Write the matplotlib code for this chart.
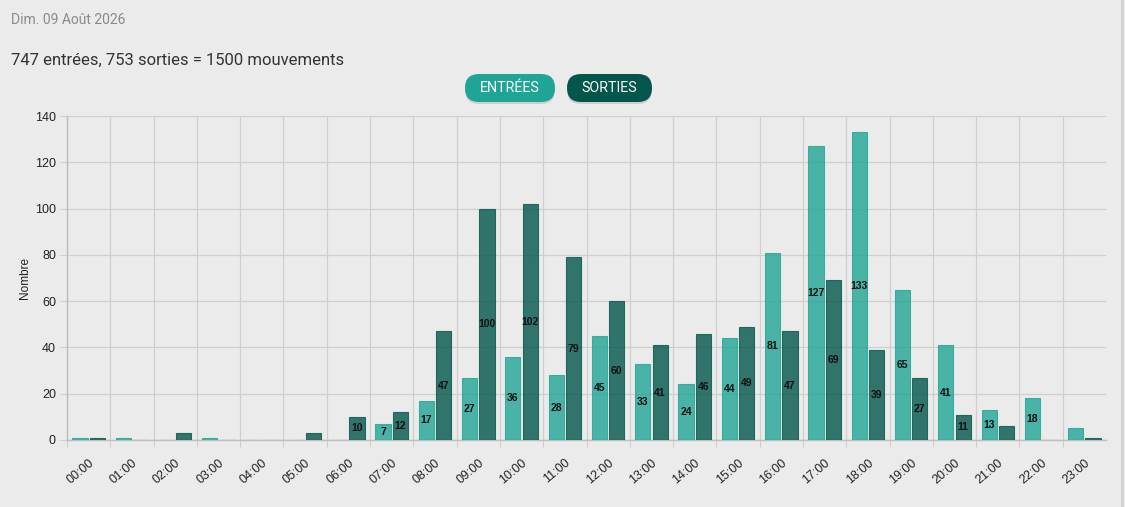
import matplotlib
matplotlib.use("Agg")
import matplotlib.pyplot as plt
from matplotlib.patches import FancyBboxPatch
from matplotlib.lines import Line2D
import numpy as np

hours = ["00:00", "01:00", "02:00", "03:00", "04:00", "05:00", "06:00", "07:00",
         "08:00", "09:00", "10:00", "11:00", "12:00", "13:00", "14:00", "15:00",
         "16:00", "17:00", "18:00", "19:00", "20:00", "21:00", "22:00", "23:00"]
entrees = [1, 1, 0, 1, 0, 0, 0, 7, 17, 27, 36, 28, 45, 33, 24, 44, 81, 127, 133, 65, 41, 13, 18, 5]
sorties = [1, 0, 3, 0, 0, 3, 10, 12, 47, 100, 102, 79, 60, 41, 46, 49, 47, 69, 39, 27, 11, 6, 0, 1]
date_text = "Dim. 09 Août 2026"
summary_text = "747 entrées, 753 sorties = 1500 mouvements"
legend_labels = ["ENTRÉES", "SORTIES"]

c_ent = "#1fa595"
c_sor = "#02564b"
bg = "#ebebeb"
grid_c = "#cfcfcf"
chart_font = ["Liberation Sans", "DejaVu Sans"]
head_font = ["Roboto", "DejaVu Sans"]

fig = plt.figure(figsize=(11.25, 5.07), dpi=100, facecolor=bg)
ax = fig.add_axes([67 / 1125, 67 / 507, (1106 - 67) / 1125, (440 - 116) / 507])
ax.set_facecolor(bg)

x = np.arange(len(hours))
w = 0.35
off = 0.2
b1 = ax.bar(x - off, entrees, width=w, color=c_ent, alpha=0.8, edgecolor=c_ent, linewidth=0.8, zorder=3)
b2 = ax.bar(x + off, sorties, width=w, color=c_sor, alpha=0.8, edgecolor=c_sor, linewidth=0.8, zorder=3)

for bars, vals in ((b1, entrees), (b2, sorties)):
    for r, v in zip(bars, vals):
        if v > 6:
            ax.text(r.get_x() + r.get_width() / 2, v / 2, str(v), ha="center", va="center",
                    fontsize=7.5, fontweight="bold", color="#111111",
                    family=chart_font, zorder=4)

ax.set_xlim(-0.5, len(hours) - 0.5)
ax.set_ylim(0, 140)
ax.set_yticks(np.arange(0, 141, 20))
ax.set_xticks(np.arange(len(hours)) - 0.5)
ax.set_xticklabels([])
ax.set_xticks(x, minor=True)
ax.set_xticklabels(hours, minor=True, rotation=40, ha="right", va="top",
                   rotation_mode="anchor", fontsize=9, family=chart_font, color="#222222")
ax.tick_params(axis="x", which="minor", length=0, pad=12)
ax.tick_params(axis="x", which="major", length=5, color=grid_c)
ax.tick_params(axis="y", length=5, color=grid_c, labelsize=9, labelcolor="#222222", pad=3)
for lab in ax.get_yticklabels():
    lab.set_family(chart_font)

ax.grid(True, which="major", color=grid_c, linewidth=0.9, zorder=0)
ax.set_axisbelow(True)
for s in ["top", "right"]:
    ax.spines[s].set_visible(False)
for s in ["left", "bottom"]:
    ax.spines[s].set_color("#bdbdbd")
    ax.spines[s].set_linewidth(1)

ax.set_ylabel("Nombre", fontsize=8.5, family=chart_font, color="#222222", labelpad=3)

fig.text(11 / 1125, 1 - 20 / 507, date_text, fontsize=10, color="#8a8a8a", family=head_font,
         ha="left", va="center")
fig.text(11 / 1125, 1 - 60 / 507, summary_text, fontsize=12, color="#333333", family=head_font,
         ha="left", va="center")

# legend buttons
buttons = [(465, 555, c_ent, legend_labels[0]), (567, 652, c_sor, legend_labels[1])]
for x0, x1, col, lab in buttons:
    y0, y1 = 507 - 102, 507 - 74
    h = y1 - y0
    shadow = FancyBboxPatch((x0, y0 - 2), x1 - x0, h,
                            boxstyle=f"round,pad=0,rounding_size={h / 2}",
                            transform=None, facecolor="#bdbdbd", edgecolor="none",
                            alpha=0.6, zorder=4)
    fig.patches.append(shadow)
    p = FancyBboxPatch((x0, y0), x1 - x0, h,
                       boxstyle=f"round,pad=0,rounding_size={h / 2}",
                       transform=None, facecolor=col, edgecolor="none", zorder=5)
    fig.patches.append(p)
    fig.text((x0 + x1) / 2 / 1125, (y0 + y1) / 2 / 507, lab, fontsize=10.3, color="white",
             family=head_font, ha="center", va="center", zorder=6)

# right card border
fig.add_artist(Line2D([1122 / 1125, 1122 / 1125], [0, 1], color="#d2d2d2", linewidth=2,
                      transform=fig.transFigure))

fig.savefig("out.png", dpi=100, facecolor=bg)
